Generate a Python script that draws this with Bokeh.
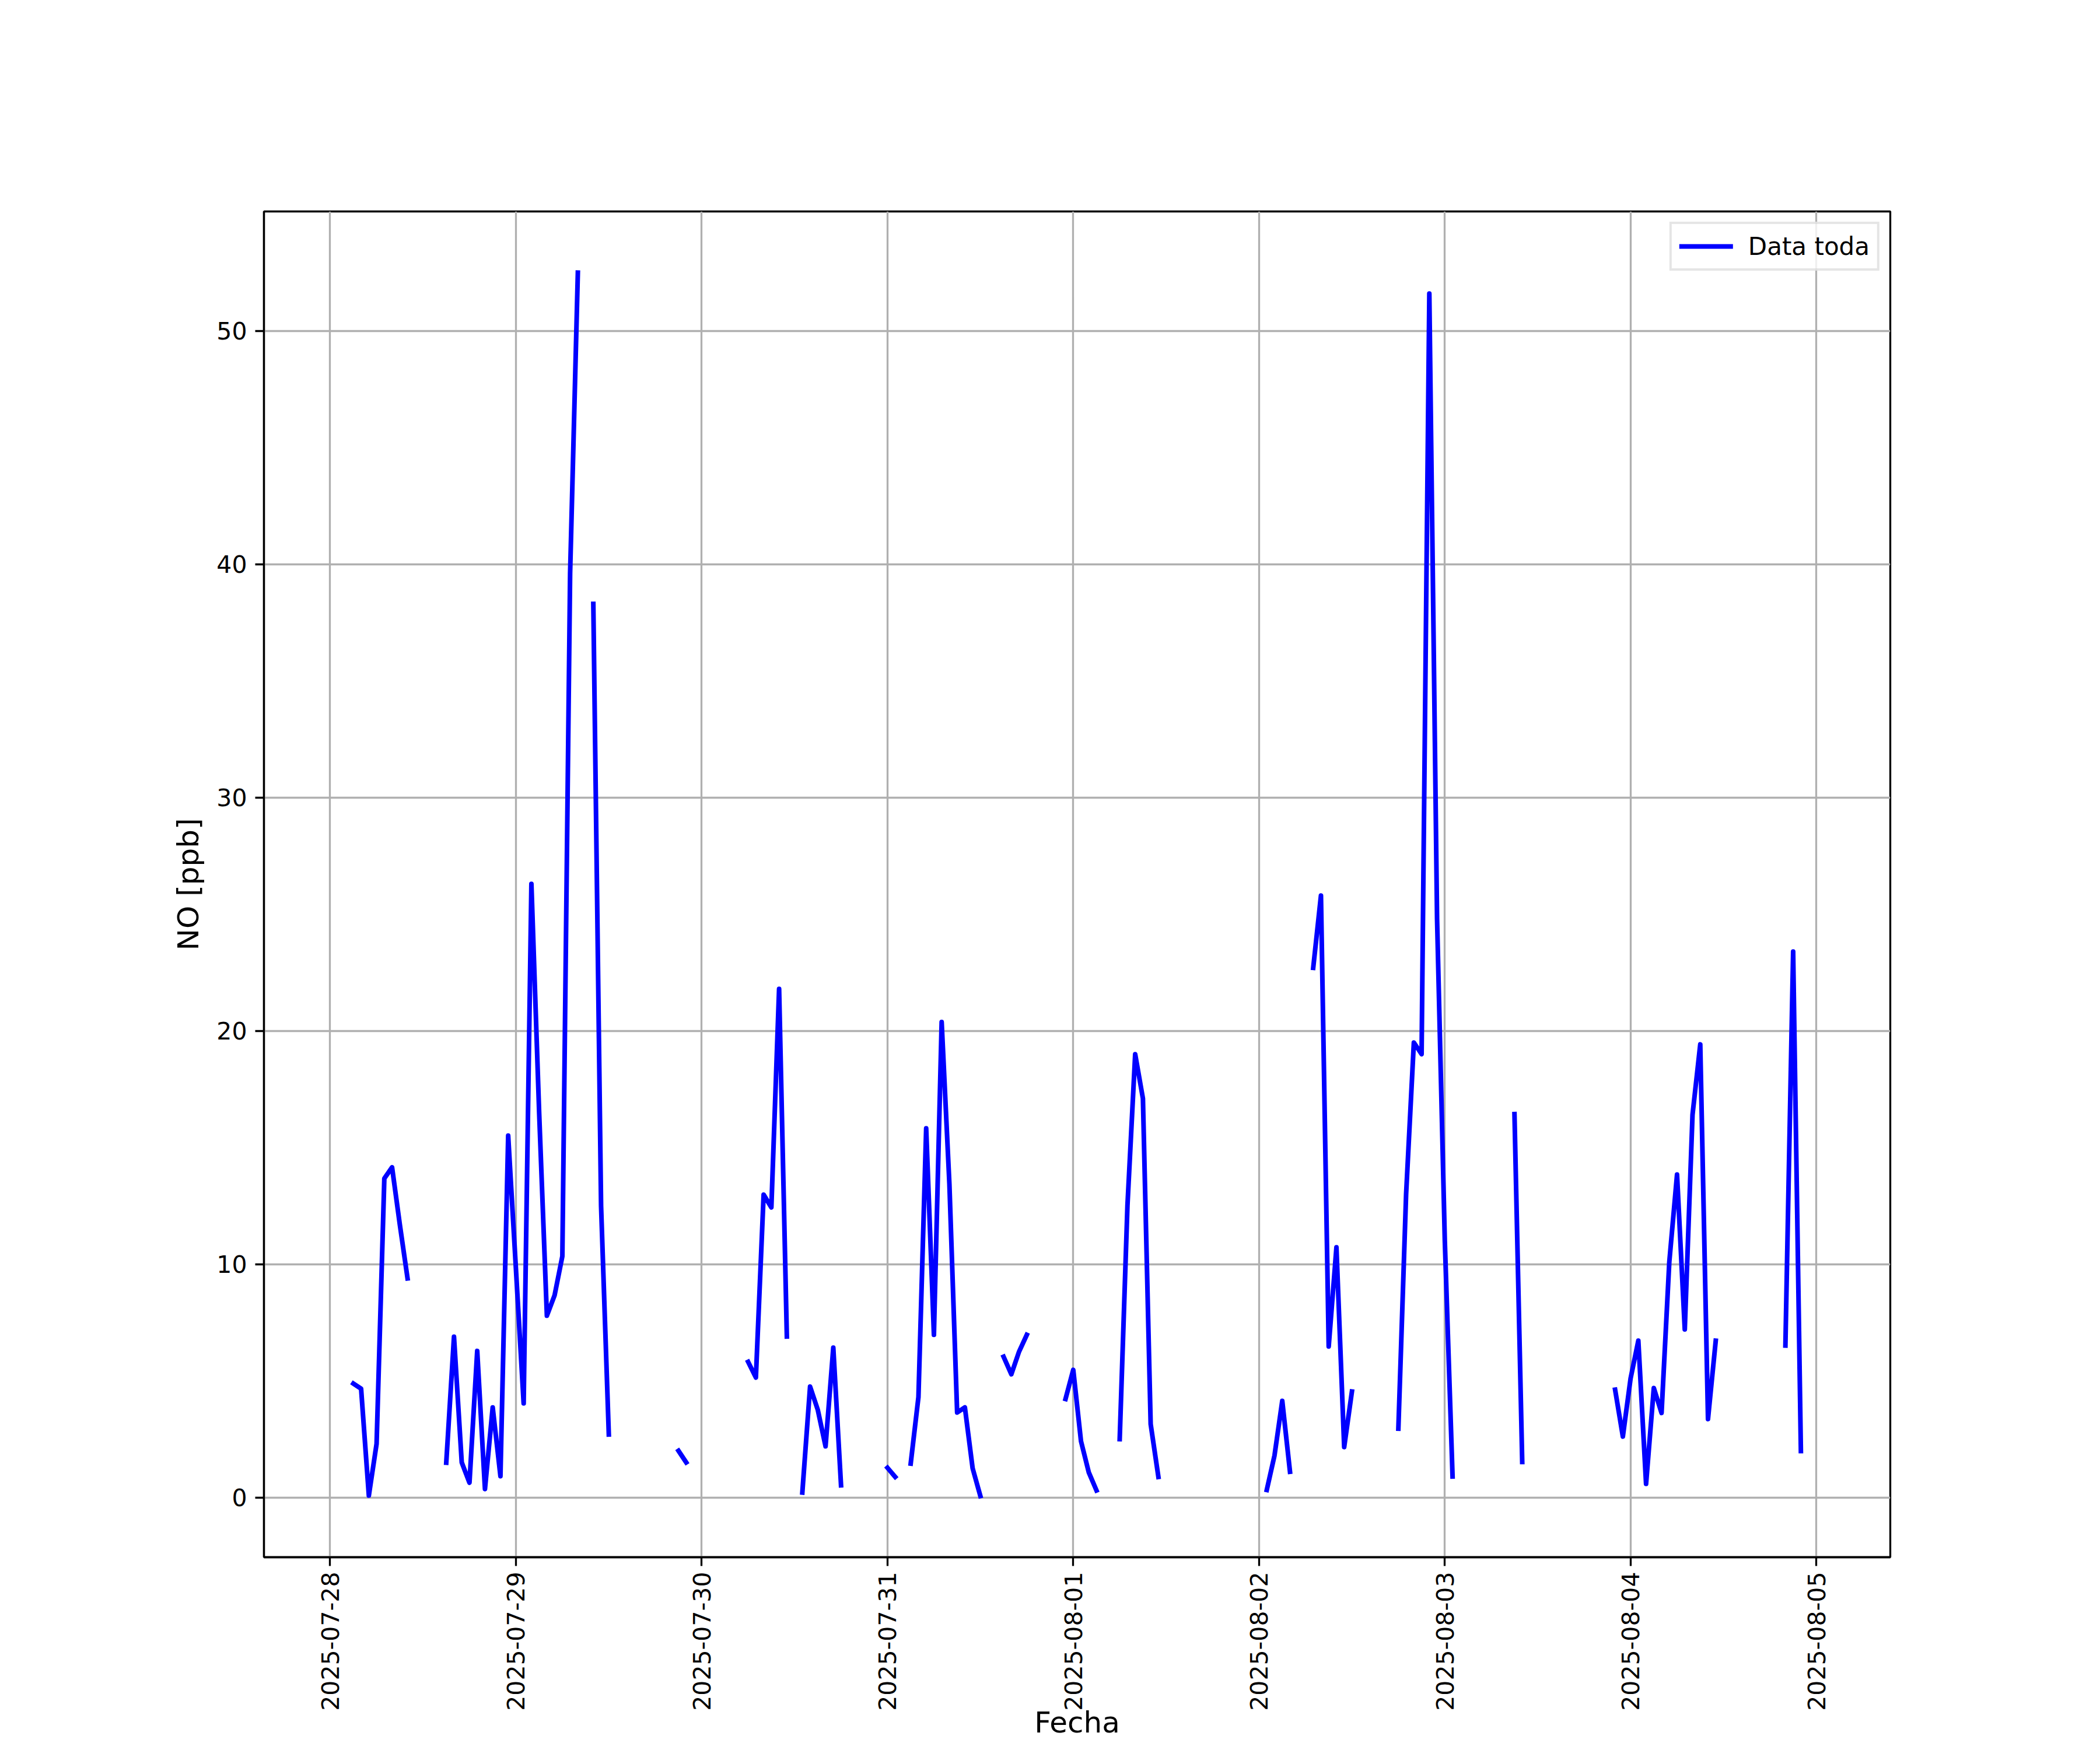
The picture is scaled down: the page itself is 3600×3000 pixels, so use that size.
import math
import numpy as np
import pandas as pd
from bokeh.plotting import figure
from bokeh.models import Range1d, FixedTicker, DatetimeTickFormatter, ColumnDataSource
from bokeh.embed import file_html
from bokeh.resources import INLINE

# ---- data: hourly NO readings, gaps between segments are missing values ----
segment_starts = [
    "2025-07-28 03:00", "2025-07-28 15:00", "2025-07-29 10:00", "2025-07-29 21:00",
    "2025-07-30 06:00", "2025-07-30 13:00", "2025-07-31 00:00", "2025-07-31 03:00",
    "2025-07-31 15:00", "2025-07-31 23:00", "2025-08-01 06:00", "2025-08-02 01:00",
    "2025-08-02 07:00", "2025-08-02 18:00", "2025-08-03 09:00", "2025-08-03 22:00",
    "2025-08-04 20:00",
]
seg_a = [4.88, 4.66, 0.08, 2.30, 13.67, 14.15, 11.7, 9.39]
seg_b = [1.49, 6.89, 1.50, 0.63, 6.28, 0.36, 3.86, 0.91, 15.51, 9.8, 4.03, 26.3,
         16.5, 7.79, 8.67, 10.34, 39.6, 52.5]
seg_c = [38.3, 12.5, 2.7]
seg_d = [2.0, 1.5]
seg_e = [5.81, 5.14, 12.98, 12.43, 21.8, 6.9]
seg_f = [0.21, 4.75, 3.75, 2.19, 6.42, 0.52]
seg_g = [1.27, 0.88]
seg_h = [1.45, 4.30, 15.82, 6.97, 20.38, 13.43, 3.64, 3.86, 1.25, 0.06]
seg_i = [6.03, 5.28, 6.25, 6.97]
seg_j = [4.22, 5.47, 2.41, 1.08, 0.30]
seg_k = [2.5, 12.5, 19.0, 17.1, 3.14, 0.88]
seg_l = [0.32, 1.80, 4.14, 1.10]
seg_m = [22.7, 25.8, 6.47, 10.72, 2.16, 4.54]
seg_n = [2.95, 13.0, 19.5, 19.0, 51.6, 24.8, 11.0, 0.9]
seg_o = [16.43, 1.52]
seg_p = [4.62, 2.61, 5.1, 6.72, 0.58, 4.69, 3.62, 10.09, 13.84, 7.2, 16.4, 19.42, 3.36, 6.72]
seg_q = [6.51, 23.4, 1.99]
segment_values = [seg_a, seg_b, seg_c, seg_d, seg_e, seg_f, seg_g, seg_h, seg_i,
                  seg_j, seg_k, seg_l, seg_m, seg_n, seg_o, seg_p, seg_q]

record_start = "2025-07-28 01:00"
record_end = "2025-08-05 00:00"
day_ticks = pd.date_range("2025-07-28", "2025-08-05", freq="D")
y_ticks = [0, 10, 20, 30, 40, 50]

# ---- build one broken line ----
xs, ys = [], []
for start, vals in zip(segment_starts, segment_values):
    t = pd.date_range(start, periods=len(vals), freq="h")
    xs.extend(list(t))
    ys.extend(vals)
    xs.append(t[-1] + pd.Timedelta(hours=1))
    ys.append(np.nan)
src = ColumnDataSource(data=dict(x=xs, y=ys))

t0 = pd.Timestamp(record_start)
t1 = pd.Timestamp(record_end)
span = t1 - t0
x_lo = t0 - span * 0.05
x_hi = t1 + span * 0.05
vals_all = [v for s in segment_values for v in s]
vmin, vmax = min(vals_all), max(vals_all)
ypad = (vmax - vmin) * 0.05

FONT = "DejaVu Sans"
W, H = 3584, 2984
BL, BR, BT, BB = 452, 344, 362, 313
p = figure(width=W, height=H, x_axis_type="datetime",
           output_backend="svg", toolbar_location=None,
           x_range=Range1d(x_lo, x_hi), y_range=Range1d(vmin - ypad, vmax + ypad),
           min_border_left=BL, min_border_right=BR, min_border_top=BT,
           min_border_bottom=BB)
p.background_fill_color = "white"
p.border_fill_color = "white"
p.outline_line_color = "black"
p.outline_line_width = 3.3

p.line("x", "y", source=src, line_color="#0000ff", line_width=8,
       line_cap="square", line_join="round", legend_label="Data toda")

# axes
xa = p.xaxis[0]
ya = p.yaxis[0]
xa.ticker = FixedTicker(ticks=[int(t.value // 10**6) for t in day_ticks])
fmt = "%Y-%m-%d"
xa.formatter = DatetimeTickFormatter(days=fmt, months=fmt, hours=fmt, years=fmt,
                                     minutes=fmt, hourmin=fmt)
xa.major_label_orientation = math.pi / 2
ya.ticker = FixedTicker(ticks=y_ticks)
for ax in (xa, ya):
    ax.major_label_text_font = FONT
    ax.major_label_text_font_size = "41px"
    ax.major_label_text_color = "black"
    ax.axis_label_text_font = FONT
    ax.axis_label_text_font_size = "50px"
    ax.axis_label_text_font_style = "normal"
    ax.axis_label_text_color = "black"
    ax.major_tick_out = 15
    ax.major_tick_in = 0
    ax.major_tick_line_width = 3.3
    ax.major_tick_line_color = "black"
    ax.minor_tick_out = 0
    ax.minor_tick_in = 0
    ax.axis_line_width = 3.3
    ax.axis_line_color = "black"
    ax.major_label_standoff = 14
xa.major_label_standoff = 10
xa.axis_label = "Fecha"
xa.axis_label_standoff = -12
ya.axis_label = "NO [ppb]"
ya.axis_label_standoff = 16

for g in (p.xgrid[0], p.ygrid[0]):
    g.grid_line_color = "#b0b0b0"
    g.grid_line_width = 3.3

lg = p.legend[0]
lg.location = "top_right"
lg.margin = 18
lg.padding = 13
lg.spacing = 0
lg.label_text_font = FONT
lg.label_text_font_size = "42px"
lg.label_text_color = "black"
lg.label_standoff = 26
lg.glyph_width = 92
lg.glyph_height = 50
lg.label_height = 50
lg.border_line_color = "#cccccc"
lg.border_line_width = 4
lg.background_fill_alpha = 0.8

open("out.html", "w").write(file_html(p, INLINE))
